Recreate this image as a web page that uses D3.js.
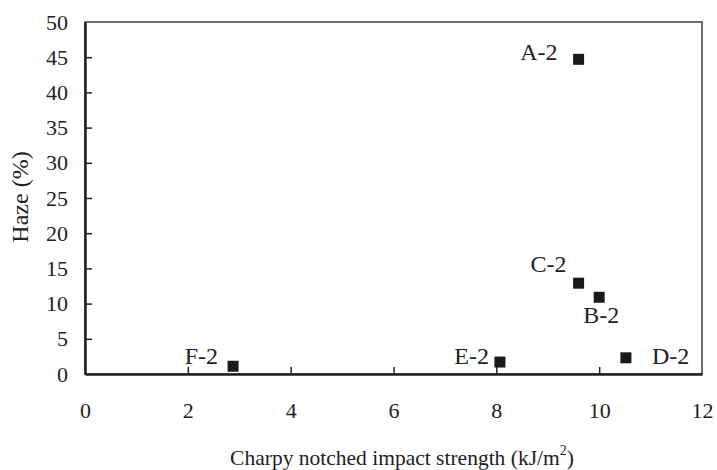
<!DOCTYPE html>
<html>
<head>
<meta charset="utf-8">
<script src="https://cdn.jsdelivr.net/npm/d3@7"></script>
<style>
  html, body { margin: 0; padding: 0; background: #fff; }
  svg text { font-family: "Liberation Serif", "Times New Roman", serif; fill: #222; }
</style>
</head>
<body>
<div id="chart"></div>
<script>
// ---- Data ----------------------------------------------------------------
const samples = ['A-2', 'B-2', 'C-2', 'D-2', 'E-2', 'F-2'];
const impact  = [9.6, 10.0, 9.6, 10.52, 8.07, 2.88];
const haze    = [44.7, 10.9, 12.9, 2.3, 1.7, 1.1];
const xTicks  = [0, 2, 4, 6, 8, 10, 12];
const yTicks  = [0, 5, 10, 15, 20, 25, 30, 35, 40, 45, 50];

// label offsets from marker centre (px), by sample
const labelOffset = {
  'A-2': { dx: -21, dy: 1,   anchor: 'end' },
  'B-2': { dx: -16, dy: 26,  anchor: 'start' },
  'C-2': { dx: -12, dy: -11, anchor: 'end' },
  'D-2': { dx: 26,  dy: 6,   anchor: 'start' },
  'E-2': { dx: -11, dy: 2,   anchor: 'end' },
  'F-2': { dx: -15, dy: -2,  anchor: 'end' }
};

const W = 717, H = 470, M = { top: 22, right: 15, bottom: 96, left: 85 };

const svg = d3.select('#chart').append('svg')
  .attr('width', W).attr('height', H);

const x = d3.scaleLinear().domain([0, 12]).range([M.left, W - M.right]);
const y = d3.scaleLinear().domain([0, 50]).range([H - M.bottom, M.top]);

// ---- Frame (thin top/right, heavy left/bottom) ---------------------------
svg.append('rect')
  .attr('x', M.left).attr('y', M.top)
  .attr('width', x(12) - M.left).attr('height', y(0) - M.top)
  .attr('fill', 'none').attr('stroke', '#222').attr('stroke-width', 1.3);

// ---- Axes ----------------------------------------------------------------
svg.append('g')
  .attr('transform', `translate(0,${y(0)})`)
  .call(d3.axisBottom(x).tickValues(xTicks).tickFormat(d3.format('d'))
    .tickSizeInner(-7).tickSizeOuter(0).tickPadding(28))
  .call(g => g.select('.domain').attr('stroke', '#222').attr('stroke-width', 2.5))
  .call(g => g.selectAll('.tick line').attr('stroke', '#222').attr('stroke-width', 1.5))
  .call(g => g.selectAll('.tick').filter(d => d === 0 || d === 12).select('line').remove())
  .call(g => g.selectAll('text').attr('font-family', null).style('font-size', '22px').attr('fill', '#222'));

svg.append('g')
  .attr('transform', `translate(${M.left},0)`)
  .call(d3.axisLeft(y).tickValues(yTicks).tickFormat(d3.format('d'))
    .tickSizeInner(-7).tickSizeOuter(0).tickPadding(17))
  .call(g => g.select('.domain').attr('stroke', '#222').attr('stroke-width', 2.5))
  .call(g => g.selectAll('.tick line').attr('stroke', '#222').attr('stroke-width', 1.5))
  .call(g => g.selectAll('.tick').filter(d => d === 0 || d === 50).select('line').remove())
  .call(g => g.selectAll('text').attr('font-family', null).style('font-size', '22px').attr('fill', '#222'));

// ---- Axis titles ---------------------------------------------------------
svg.append('text')
  .attr('x', 402).attr('y', 465)
  .attr('text-anchor', 'middle')
  .style('font-size', '21.5px')
  .html('Charpy notched impact strength (kJ/m<tspan dy="-10" style="font-size:14px">2</tspan><tspan dy="10">)</tspan>');

svg.append('text')
  .attr('transform', 'translate(28,197) rotate(-90)')
  .attr('text-anchor', 'middle')
  .style('font-size', '24px')
  .text('Haze (%)');

// ---- Points --------------------------------------------------------------
const pts = samples.map((s, i) => ({ s, xv: impact[i], yv: haze[i] }));
const S = 11;

svg.append('g').selectAll('rect')
  .data(pts).join('rect')
  .attr('x', d => x(d.xv) - S / 2)
  .attr('y', d => y(d.yv) - S / 2)
  .attr('width', S).attr('height', S)
  .attr('fill', '#1a1a1a');

svg.append('g').selectAll('text')
  .data(pts).join('text')
  .attr('x', d => x(d.xv) + labelOffset[d.s].dx)
  .attr('y', d => y(d.yv) + labelOffset[d.s].dy)
  .attr('text-anchor', d => labelOffset[d.s].anchor)
  .style('font-size', '24px')
  .text(d => d.s);
</script>
</body>
</html>
